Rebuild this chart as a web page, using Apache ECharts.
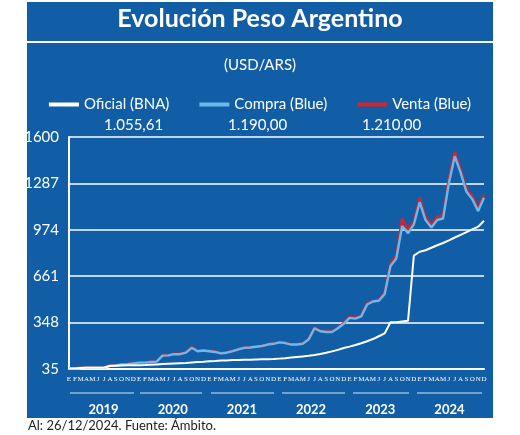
<!DOCTYPE html>
<html><head><meta charset="utf-8">
<script src="https://cdn.jsdelivr.net/npm/echarts@6/dist/echarts.min.js"></script>
<style>html,body{margin:0;padding:0;background:#fff}#main{width:520px;height:435px}</style>
</head><body><div id="main"></div>
<script>
// meses 2019-2024
var monthLetters = ['E','F','M','A','M','J','J','A','S','O','N','D'];
var years = ['2019','2020','2021','2022','2023','2024'];
var yTicks = [35, 348, 661, 974, 1287, 1600];

var oficial = [
  38,39,41,43,44,43,43,55,57,59,60,60,
  61,62,64,66,68,70,72,74,76,79,82,84,
  87,89,92,93,95,96,97,98,99,100,101,102,
  105,108,112,116,120,124,129,136,144,154,164,177,
  186,197,209,222,237,256,275,350,350,355,360,800,
  826,836,853,870,885,903,922,940,958,977,995,1035
];
var compraBlue = [
  38,39,42,44,44,43,44,58,59,65,68,73,
  78,78,82,85,125,127,135,135,145,178,155,160,
  155,150,140,145,155,168,178,180,185,190,200,205,
  215,210,200,200,205,235,310,290,285,285,310,340,
  380,375,390,470,490,495,540,730,780,1000,950,1010,
  1160,1040,990,1040,1050,1290,1470,1360,1230,1180,1100,1190
];
var ventaBlue = [
  39,40,43,45,45,44,45,59,60,66,69,74,
  79,79,83,86,128,129,137,137,147,181,158,162,
  157,152,142,147,157,170,180,182,187,192,202,207,
  217,212,202,202,207,238,315,293,288,288,313,345,
  384,380,395,478,495,500,550,745,800,1050,975,1030,
  1190,1060,1010,1060,1070,1320,1500,1380,1250,1200,1120,1210
];

var cats = [];
years.forEach(function(y){ monthLetters.forEach(function(m){ cats.push(m); }); });

var chart = echarts.init(document.getElementById('main'));
var white = '#ffffff';
var underline = function(x1, x2){
  return {type:'line', shape:{x1:x1,y1:393,x2:x2,y2:393}, style:{stroke:'#d6e4f2',lineWidth:1}};
};
var option = {
  backgroundColor: '#ffffff',
  animation: false,
  textStyle: {fontFamily: 'Lato'},
  graphic: [
    {type:'rect', shape:{x:27,y:2,width:466,height:416}, style:{fill:'#115ea6'}, z:-10},
    {type:'line', shape:{x1:27,y1:42,x2:493,y2:42}, style:{stroke:white,lineWidth:2}},
    {type:'text', left:'center', top:6, style:{text:'Evolución Peso Argentino', fill:white, font:'bold 25px Lato'}},
    {type:'text', left:'center', top:58, style:{text:'(USD/ARS)', fill:white, font:'15px Lato'}},
    {type:'text', x:104, y:118, style:{text:'1.055,61', fill:white, font:'15px Lato'}},
    {type:'text', x:228, y:118, style:{text:'1.190,00', fill:white, font:'15px Lato'}},
    {type:'text', x:362, y:118, style:{text:'1.210,00', fill:white, font:'15px Lato'}},
    underline(70,134), underline(140,202), underline(211,274),
    underline(282,345), underline(353,409), underline(417,482),
    {type:'text', x:28, y:419, style:{text:'Al: 26/12/2024. Fuente: Ámbito.', fill:'#222', font:'13px Lato'}}
  ],
  legend: {
    top: 92, left: 'center', itemGap: 30, itemWidth: 30, itemHeight: 4, icon: 'rect',
    textStyle: {color: white, fontSize: 15, fontFamily: 'Lato'},
    data: ['Oficial (BNA)', 'Compra (Blue)', 'Venta (Blue)']
  },
  grid: {left: 69, right: 36, top: 137, bottom: 66},
  xAxis: [{
    type: 'category', data: cats, boundaryGap: false,
    axisLine: {show: true, lineStyle: {color: white, width: 2}},
    axisTick: {show: false},
    axisLabel: {interval: 0, color: white, fontSize: 7, margin: 7, fontFamily: 'Liberation Sans Narrow'}
  }, {
    type: 'category', data: years, position: 'bottom', offset: 26,
    axisLine: {show: false}, axisTick: {show: false}, splitLine: {show: false},
    axisLabel: {color: white, fontSize: 13, fontWeight: 'bold', fontFamily: 'Lato'}
  }],
  yAxis: {
    type: 'value', min: yTicks[0], max: yTicks[yTicks.length-1], interval: 313,
    axisLine: {show: true, lineStyle: {color: white, width: 2}},
    axisTick: {show: false},
    axisLabel: {color: white, fontSize: 15, margin: 10, formatter: function(v){ return String(v); }},
    splitLine: {lineStyle: {color: white, width: 1.5}}
  },
  series: [
    {name: 'Venta (Blue)', type: 'line', data: ventaBlue, symbol: 'none', color: '#d8232a', lineStyle: {width: 2.6, color: '#d8232a'}, z: 2},
    {name: 'Compra (Blue)', type: 'line', data: compraBlue, symbol: 'none', color: '#6db8ea', lineStyle: {width: 2.4, color: '#6db8ea'}, z: 3},
    {name: 'Oficial (BNA)', type: 'line', data: oficial, symbol: 'none', color: white, lineStyle: {width: 2, color: white}, z: 4}
  ]
};
chart.setOption(option);
</script></body></html>
